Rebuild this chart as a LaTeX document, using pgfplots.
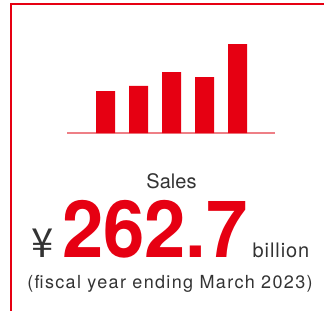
\documentclass[border=0pt]{standalone}
\usepackage{fontspec}
\setmainfont{TeX Gyre Heros}
\newfontfamily\cjk{Noto Sans CJK JP}
\newfontfamily\spaced[LetterSpace=7.5]{TeX Gyre Heros}
\newfontfamily\spacedb[LetterSpace=4.5]{TeX Gyre Heros}
\usepackage{graphicx}
\usepackage{pgfplots}
\pgfplotsset{compat=1.18}
\definecolor{myred}{HTML}{E60012}
\definecolor{mygray}{HTML}{333333}
\definecolor{baseline}{HTML}{EE7F86}
\begin{document}
\begin{tikzpicture}
\path[use as bounding box] (0,0) rectangle (324bp,-311bp);
\draw[myred, line width=1.5bp] (11bp,-311bp) -- (11bp,-4bp) -- (324bp,-4bp);
\begin{axis}[
  at={(67bp,-133bp)}, anchor=south west,
  scale only axis, width=208bp, height=101.6bp,
  xmin=-1.167, xmax=5.136, ymin=0, ymax=300,
  axis y line=none, axis x line=bottom,
  axis line style={-, draw=baseline, line width=1.3bp},
  xtick=\empty, ytick=\empty,
  clip=false,
  ybar, bar width=19bp,
]
\addplot[fill=myred, draw=none] coordinates {(0,124) (1,139) (2,180) (3,165) (4,262.7)};
\end{axis}
\node[anchor=base, text=mygray, font=\fontsize{20bp}{24bp}\selectfont, inner sep=0] at (171.5bp,-188bp) {Sales};
\node[anchor=base, text=mygray, font=\fontsize{40bp}{44bp}\selectfont, inner sep=0] at (43bp,-257bp) {\cjk ¥};
\node[anchor=base, text=myred, font=\fontsize{79bp}{84bp}\selectfont\bfseries, inner sep=0] at (155bp,-257bp) {\scalebox{0.94}[1]{262.7}};
\node[anchor=base, text=mygray, font=\fontsize{20bp}{24bp}\selectfont\spacedb, inner sep=0] at (281bp,-257bp) {billion};
\node[anchor=base, text=mygray, font=\fontsize{18bp}{22bp}\selectfont\spaced, inner sep=0] at (170bp,-288bp) {(fiscal year ending March 2023)};
\end{tikzpicture}
\end{document}
